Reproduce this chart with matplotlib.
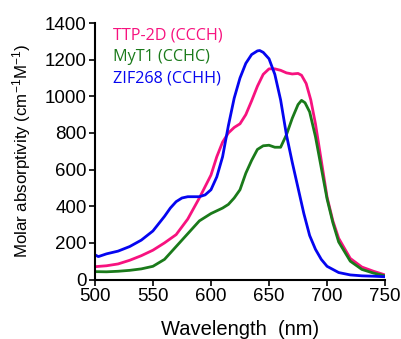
import numpy as np
import matplotlib
matplotlib.use("Agg")
import matplotlib.pyplot as plt

plt.rcParams['font.family'] = ['Liberation Sans', 'DejaVu Sans']
plt.rcParams['mathtext.default'] = 'regular'

# wavelength (nm) and molar absorptivity
wl_blue = [500, 503, 510, 520, 530, 540, 550, 560, 565, 570, 575, 580, 590, 595, 600, 605, 610, 615, 620,
           625, 630, 635, 640, 642, 645, 650, 655, 660, 665, 670, 675, 680, 685, 690, 695, 700,
           710, 720, 730, 740, 750]
zif268 = [135, 125, 140, 155, 180, 215, 265, 345, 390, 425, 445, 452, 452, 462, 490, 560, 670, 840, 990,
          1100, 1180, 1228, 1248, 1250, 1240, 1205, 1120, 980, 790, 640, 500, 360, 240, 165, 110, 72,
          38, 25, 20, 18, 15]

wl_pink = [500, 510, 520, 530, 540, 550, 560, 570, 580, 590, 600, 605, 610, 615, 620, 625, 630, 635,
           640, 645, 650, 655, 660, 665, 670, 675, 678, 682, 686, 690, 695, 700, 705, 710, 720,
           730, 740, 750]
ttp2d = [70, 75, 85, 105, 130, 160, 200, 245, 330, 445, 570, 670, 750, 800, 830, 850, 900, 975,
         1055, 1120, 1150, 1150, 1142, 1128, 1122, 1125, 1115, 1070, 980, 850, 650, 450, 320, 225, 115,
         68, 45, 25]

wl_green = [500, 510, 520, 530, 540, 550, 560, 570, 580, 590, 600, 605, 610, 615, 620, 625, 630, 635,
            640, 645, 650, 655, 660, 665, 670, 675, 678, 681, 685, 690, 695, 700, 705, 710, 720,
            730, 740, 750]
myt1 = [43, 42, 45, 50, 58, 72, 110, 180, 250, 320, 360, 375, 390, 410, 445, 490, 580, 650,
        710, 730, 733, 722, 722, 790, 880, 955, 978, 965, 915, 780, 610, 440, 310, 205, 100,
        55, 35, 20]

pink = '#f7127f'
green = '#1a7a1a'
blue = '#0505f0'

fig = plt.figure(figsize=(4.02, 3.39), dpi=100)
ax = fig.add_axes([0.236, 0.1755, 0.722, 0.7565])

ax.plot(wl_pink, ttp2d, color=pink, lw=2.0)
ax.plot(wl_green, myt1, color=green, lw=2.0)
ax.plot(wl_blue, zif268, color=blue, lw=2.0)

ax.set_xlim(500, 750)
ax.set_ylim(0, 1400)
ax.set_xticks(np.arange(500, 751, 50))
ax.set_yticks(np.arange(0, 1401, 200))
ax.tick_params(labelsize=13.5, length=4, width=1.2, direction='out', pad=2)
for s in ['top', 'right']:
    ax.spines[s].set_visible(False)
for s in ['left', 'bottom']:
    ax.spines[s].set_linewidth(1.5)

ax.set_xlabel('Wavelength  (nm)', fontsize=14.5)
ax.set_ylabel('Molar absorptivity (cm$^{-1}$M$^{-1}$)', fontsize=12.2)
ax.xaxis.set_label_coords(0.5, -0.158)
ax.yaxis.set_label_coords(-0.214, 0.5)

leg_font = ['Open Sans', 'DejaVu Sans']
fig.text(0.281, 0.895, 'TTP-2D (CCCH)', color=pink, fontsize=11.6, family=leg_font, va='center')
fig.text(0.281, 0.831, 'MyT1 (CCHC)', color=green, fontsize=11.6, family=leg_font, va='center')
fig.text(0.281, 0.768, 'ZIF268 (CCHH)', color=blue, fontsize=11.6, family=leg_font, va='center')

fig.savefig('out.png', dpi=100)
